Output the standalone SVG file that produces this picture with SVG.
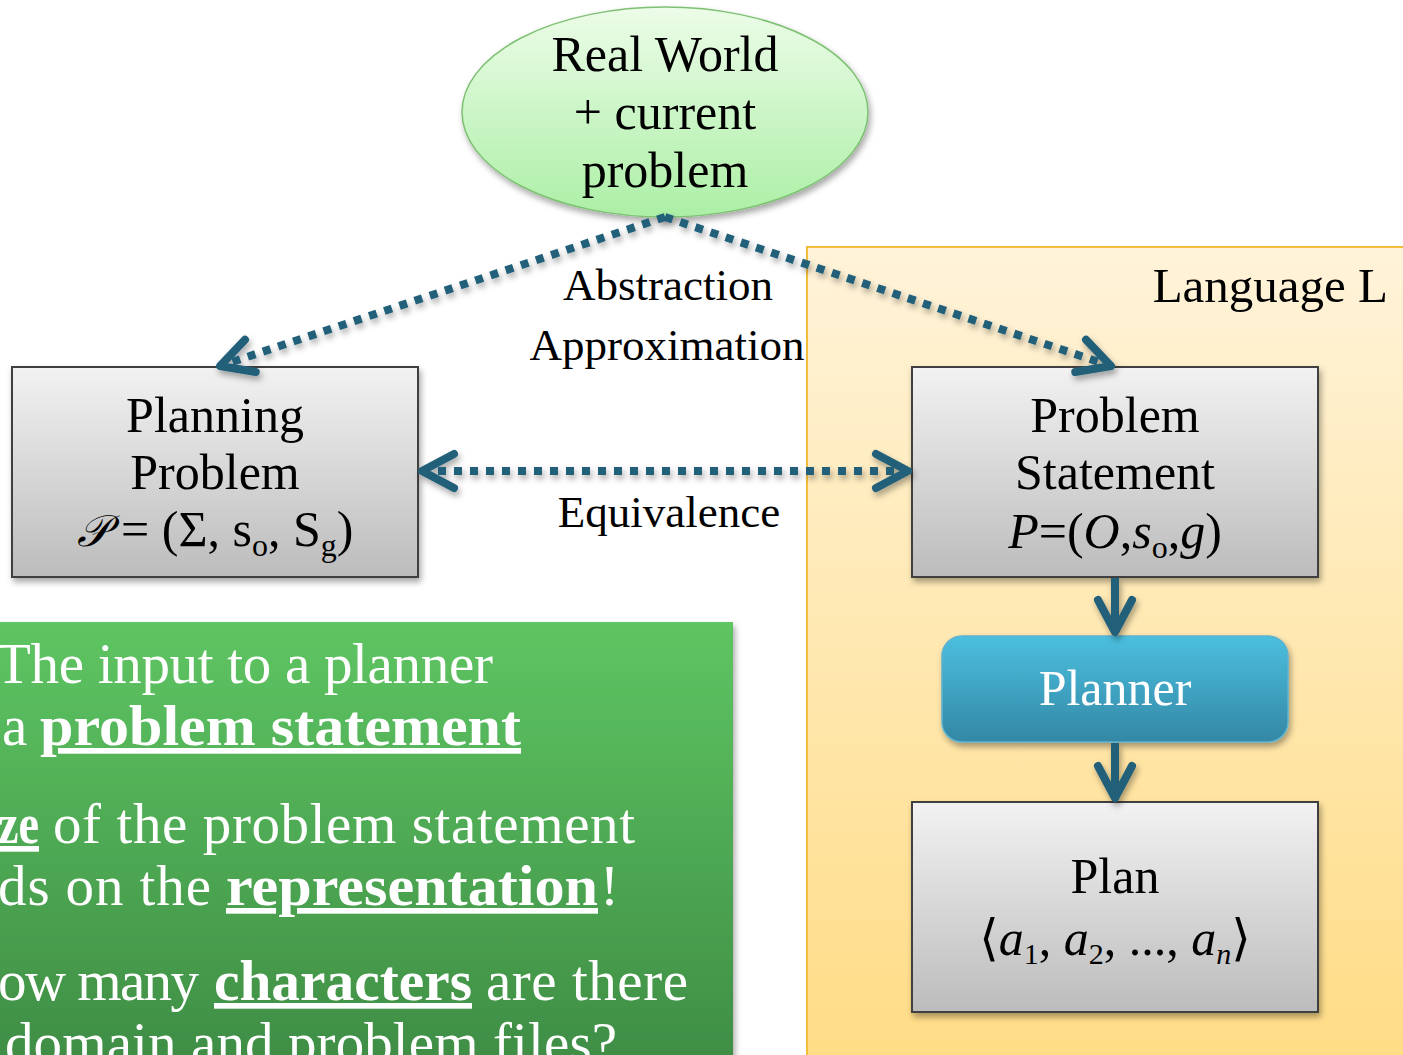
<svg xmlns="http://www.w3.org/2000/svg" width="1403" height="1055" viewBox="0 0 1403 1055">
<defs>
<linearGradient id="gYellow" x1="0" y1="0" x2="0" y2="1"><stop offset="0" stop-color="#FFF3D9"/><stop offset="1" stop-color="#FFDC85"/></linearGradient>
<linearGradient id="gEllipse" x1="0" y1="0" x2="0" y2="1"><stop offset="0" stop-color="#ECFCE8"/><stop offset="1" stop-color="#ACEFA6"/></linearGradient>
<linearGradient id="gGray" x1="0" y1="0" x2="0" y2="1"><stop offset="0" stop-color="#F2F2F2"/><stop offset="1" stop-color="#BCBCBC"/></linearGradient>
<linearGradient id="gBlue" x1="0" y1="0" x2="0" y2="1"><stop offset="0" stop-color="#4CBFDF"/><stop offset="1" stop-color="#3387A5"/></linearGradient>
<linearGradient id="gGreen" x1="0" y1="0" x2="0" y2="1"><stop offset="0" stop-color="#5EC562"/><stop offset="1" stop-color="#3E8C44"/></linearGradient>
<filter id="shadow" x="-10%" y="-10%" width="125%" height="130%"><feDropShadow dx="2" dy="4" stdDeviation="3" flood-color="#000" flood-opacity="0.35"/></filter>
<marker id="chev" viewBox="-40 -24 46 48" refX="0" refY="0" markerUnits="userSpaceOnUse" markerWidth="46" markerHeight="48" orient="auto-start-reverse">
<path d="M-32,-17 L0,0 L-32,17" fill="none" stroke="#22607A" stroke-width="8" stroke-linecap="round" stroke-linejoin="round"/>
</marker>
</defs>
<style>
.serif{font-family:"Liberation Serif","DejaVu Serif",serif;}
.node{font-size:50px;fill:#000;text-anchor:middle;}
.lbl{font-size:45px;fill:#000;text-anchor:middle;}
.box{fill:url(#gGray);stroke:#3F3F3F;stroke-width:2;filter:url(#shadow);}
.dot{fill:none;stroke:#22607A;stroke-width:8;stroke-dasharray:8 8;}
.solid{fill:none;stroke:#22607A;stroke-width:8;}
.gt{font-size:57px;fill:#fff;}
.bu{font-weight:bold;text-decoration:underline;}
</style>
<rect width="1403" height="1055" fill="#fff"/>

<g id="language-L">
<rect x="807" y="247" width="610" height="820" fill="url(#gYellow)" stroke="#F4BD3A" stroke-width="2"/>
<text class="serif" x="1388" y="302" font-size="49" text-anchor="end">Language L</text>
</g>

<g id="info-box">
<rect x="-10" y="622" width="743" height="450" fill="url(#gGreen)" filter="url(#shadow)"/>
<text class="serif gt" x="-4" y="683" textLength="497" lengthAdjust="spacing">The input to a planner</text>
<text class="serif gt" y="745"><tspan x="2">a</tspan><tspan class="bu" x="40" textLength="481" lengthAdjust="spacingAndGlyphs">problem statement</tspan></text>
<text class="serif gt" y="843"><tspan class="bu" x="-2" textLength="41" lengthAdjust="spacingAndGlyphs">ze</tspan><tspan x="53" textLength="582" lengthAdjust="spacing">of the problem statement</tspan></text>
<text class="serif gt" y="905"><tspan x="-2" textLength="213" lengthAdjust="spacing">ds on the</tspan><tspan class="bu" x="226" textLength="372" lengthAdjust="spacingAndGlyphs">representation</tspan><tspan x="600">!</tspan></text>
<text class="serif gt" y="1000"><tspan x="-2" textLength="201" lengthAdjust="spacing">ow many</tspan><tspan class="bu" x="214" textLength="258" lengthAdjust="spacingAndGlyphs">characters</tspan><tspan x="486" textLength="202" lengthAdjust="spacing">are there</tspan></text>
<text class="serif gt" x="5" y="1062" textLength="612" lengthAdjust="spacing">domain and problem files?</text>
</g>

<g id="real-world">
<ellipse cx="665" cy="112" rx="203" ry="105" fill="url(#gEllipse)" stroke="#7DC172" stroke-width="1.5" filter="url(#shadow)"/>
<text class="serif node" x="665" y="71">Real World</text>
<text class="serif node" x="665" y="129">+ current</text>
<text class="serif node" x="665" y="187">problem</text>
</g>

<g id="planning-problem">
<rect class="box" x="12" y="367" width="406" height="210"/>
<text class="serif node" x="215" y="432">Planning</text>
<text class="serif node" x="215" y="489">Problem</text>
<text class="serif node" x="215" y="546"><tspan font-style="italic" font-size="44">𝒫</tspan> = (Σ, s<tspan font-size="32" dy="10">o</tspan><tspan dy="-10">, S</tspan><tspan font-size="32" dy="10">g</tspan><tspan dy="-10">)</tspan></text>
</g>

<g id="problem-statement">
<rect class="box" x="912" y="367" width="406" height="210"/>
<text class="serif node" x="1115" y="432">Problem</text>
<text class="serif node" x="1115" y="489">Statement</text>
<text class="serif node" x="1115" y="548"><tspan font-style="italic">P</tspan>=(<tspan font-style="italic">O</tspan>,<tspan font-style="italic">s</tspan><tspan font-size="32" dy="10">o</tspan><tspan dy="-10">,</tspan><tspan font-style="italic">g</tspan>)</text>
</g>

<g id="planner">
<rect x="942" y="636" width="346" height="106" rx="20" fill="url(#gBlue)" stroke="#5DB3CF" stroke-width="1.5" filter="url(#shadow)"/>
<text class="serif node" x="1115" y="705" style="fill:#fff" font-size="51">Planner</text>
</g>

<g id="plan">
<rect class="box" x="912" y="802" width="406" height="210"/>
<text class="serif node" x="1115" y="893">Plan</text>
<text class="serif node" x="1115" y="955">⟨<tspan font-style="italic">a</tspan><tspan font-size="30" dy="9">1</tspan><tspan dy="-9">, </tspan><tspan font-style="italic">a</tspan><tspan font-size="30" dy="9">2</tspan><tspan dy="-9">, ..., </tspan><tspan font-style="italic">a</tspan><tspan font-size="30" font-style="italic" dy="9">n</tspan><tspan dy="-9">⟩</tspan></text>
</g>

<g id="labels">
<text class="serif lbl" x="668" y="300">Abstraction</text>
<text class="serif lbl" x="667" y="360">Approximation</text>
<text class="serif lbl" x="669" y="527">Equivalence</text>
</g>

<g id="connectors" filter="url(#shadow)">
<path class="dot" d="M665,217 L220,366" marker-end="url(#chev)"/>
<path class="dot" d="M665,217 L1111,366" marker-end="url(#chev)"/>
<path class="dot" d="M422,471 L908,471" marker-start="url(#chev)" marker-end="url(#chev)"/>
<path class="solid" d="M1115,578 L1115,632" marker-end="url(#chev)"/>
<path class="solid" d="M1115,743 L1115,798" marker-end="url(#chev)"/>
</g>
</svg>
